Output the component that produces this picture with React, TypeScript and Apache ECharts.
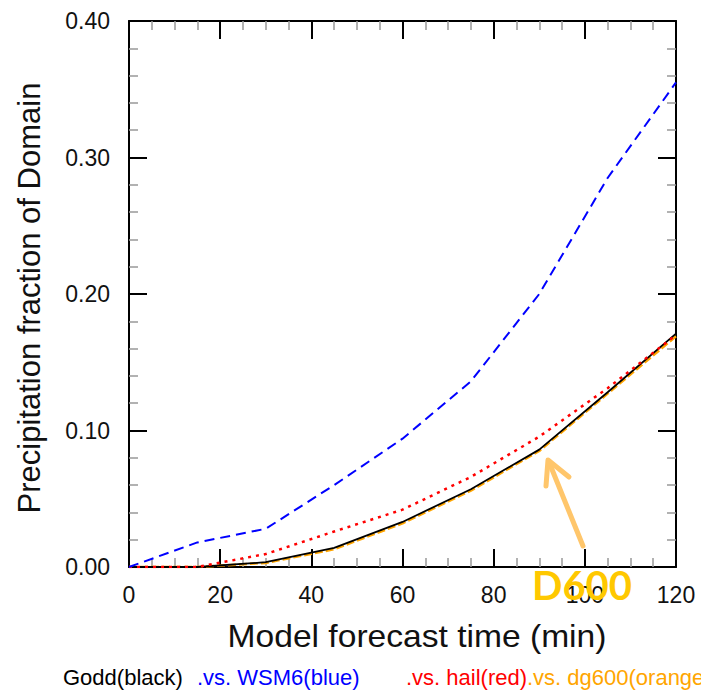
import React, { useEffect, useRef } from "react";
import * as echarts from "echarts";

const times = [0, 15, 30, 45, 60, 75, 90, 105, 120];
const goddBlack = [0, 0, 0.0035, 0.014, 0.033, 0.057, 0.086, 0.128, 0.171];
const wsm6Blue = [0, 0.018, 0.028, 0.06, 0.094, 0.136, 0.2, 0.285, 0.355];
const hailRed = [0, 0, 0.0095, 0.026, 0.042, 0.066, 0.0955, 0.131, 0.17];
const dg600Orange = [0, 0, 0.003, 0.013, 0.032, 0.056, 0.085, 0.127, 0.169];

const xTitle = "Model forecast time (min)";
const yTitle = "Precipitation fraction of Domain";
const legendParts = [
  { text: "Godd(black)", color: "#000000" },
  { text: ".vs. WSM6(blue)", color: "#0000FF" },
  { text: ".vs. hail(red)", color: "#FF0000" },
  { text: ".vs. dg600(orange)", color: "#FFA500" },
];
const annotation = "D600";

const FONT = "Liberation Sans, Arial, sans-serif";

function pairs(vals: number[]) {
  return times.map((t, i) => [t, vals[i]]);
}

export default function App() {
  const ref = useRef<HTMLDivElement>(null);
  useEffect(() => {
    document.body.style.margin = "0";
    const chart = echarts.init(ref.current!, null, { renderer: "svg" });
    const axisLine = { show: true, onZero: false, lineStyle: { color: "#000", width: 2 } };
    const axisTick = { show: true, inside: true, length: 18, lineStyle: { color: "#000", width: 2 } };
    const minorTickX = { show: true, splitNumber: 4, length: 9, lineStyle: { color: "#999", width: 1.5 } };
    const minorTickY = { show: true, splitNumber: 5, length: 9, lineStyle: { color: "#999", width: 1.5 } };
    const xBase = {
      type: "value",
      min: 0,
      max: 120,
      interval: 20,
      axisLine,
      axisTick,
      minorTick: minorTickX,
      splitLine: { show: false },
      minorSplitLine: { show: false },
    };
    const yBase = {
      type: "value",
      min: 0,
      max: 0.4,
      interval: 0.1,
      axisLine,
      axisTick,
      minorTick: minorTickY,
      splitLine: { show: false },
      minorSplitLine: { show: false },
    };
    const legendX = [63, 197, 406, 527];
    chart.setOption({
      animation: false,
      backgroundColor: "#fff",
      textStyle: { fontFamily: FONT },
      grid: { left: 129, top: 21, width: 547, height: 546, containLabel: false },
      xAxis: [
        {
          ...xBase,
          position: "bottom",
          axisLabel: { show: true, margin: 16, fontSize: 23, color: "#111", fontFamily: FONT },
        },
        { ...xBase, position: "top", axisLabel: { show: false } },
      ],
      yAxis: [
        {
          ...yBase,
          position: "left",
          axisLabel: {
            show: true,
            margin: 19,
            fontSize: 23,
            color: "#111",
            fontFamily: FONT,
            formatter: (v: number) => v.toFixed(2),
          },
        },
        { ...yBase, position: "right", axisLabel: { show: false } },
      ],
      series: [
        {
          name: "dg600",
          type: "line",
          data: pairs(dg600Orange),
          showSymbol: false,
          lineStyle: { color: "#FFA500", width: 2.5, type: [8, 3] },
          z: 2,
        },
        {
          name: "Godd",
          type: "line",
          data: pairs(goddBlack),
          showSymbol: false,
          lineStyle: { color: "#000", width: 1.8, type: "solid" },
          z: 3,
        },
        {
          name: "hail",
          type: "line",
          data: pairs(hailRed),
          showSymbol: false,
          lineStyle: { color: "#FF0000", width: 2.5, type: [3, 5] },
          z: 4,
        },
        {
          name: "WSM6",
          type: "line",
          data: pairs(wsm6Blue),
          showSymbol: false,
          lineStyle: { color: "#0000FF", width: 2, type: [10, 6] },
          z: 4,
        },
      ],
      graphic: [
        {
          type: "text",
          x: 29,
          y: 298,
          rotation: Math.PI / 2,
          style: {
            text: yTitle,
            fontSize: 31,
            fontFamily: FONT,
            fill: "#111",
            textAlign: "center",
            textVerticalAlign: "middle",
          },
        },
        {
          type: "text",
          x: 417,
          y: 636,
          scaleX: 1.05,
          style: {
            text: xTitle,
            fontSize: 32,
            fontFamily: FONT,
            fill: "#111",
            textAlign: "center",
            textVerticalAlign: "middle",
          },
        },
        ...legendParts.map((p, i) => ({
          type: "text",
          x: legendX[i],
          y: 677,
          style: {
            text: p.text,
            fontSize: 22,
            fontFamily: FONT,
            fill: p.color,
            textAlign: "left",
            textVerticalAlign: "middle",
          },
        })),
        {
          type: "line",
          shape: { x1: 583, y1: 546, x2: 549, y2: 462 },
          style: { stroke: "#FFC66B", lineWidth: 5, lineCap: "round" },
          z: 10,
        },
        {
          type: "polyline",
          shape: { points: [[546, 486], [548, 460], [569, 477]] },
          style: { stroke: "#FFC66B", lineWidth: 5, fill: "none", lineCap: "round", lineJoin: "round" },
          z: 10,
        },
        {
          type: "text",
          x: 532,
          y: 585,
          style: {
            text: annotation,
            fontSize: 40,
            fontWeight: "bold",
            fontFamily: "Lato, Open Sans, sans-serif",
            fill: "#FFC800",
            textAlign: "left",
            textVerticalAlign: "middle",
          },
          z: 11,
        },
      ],
    });
    return () => chart.dispose();
  }, []);
  return <div ref={ref} style={{ width: 701, height: 690 }} />;
}
